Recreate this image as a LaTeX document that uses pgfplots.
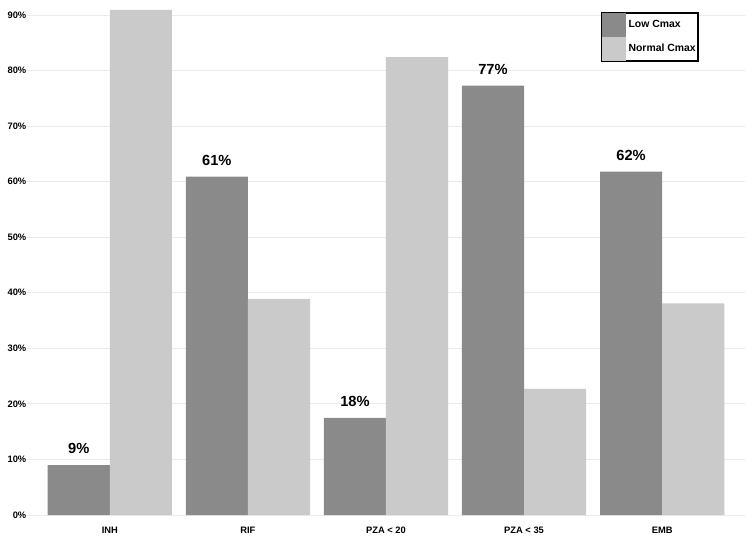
\documentclass[border=0pt]{standalone}
\usepackage{fontspec}
\setmainfont{Liberation Sans}
\usepackage{pgfplots}
\pgfplotsset{compat=1.18}
\definecolor{lowc}{HTML}{8A8A8A}
\definecolor{normc}{HTML}{CACACA}
\definecolor{gridc}{HTML}{EBEBEB}
\begin{document}
\begin{tikzpicture}
\path[use as bounding box] (0pt,0pt) rectangle (565.5pt,410.25pt);
\begin{axis}[at={(20.25pt,21pt)}, anchor=south west,
  scale only axis, width=538.5pt, height=389.25pt,
  xmin=-0.6, xmax=4.6, ymin=-0.72, ymax=92.7,
  ybar, bar width=0.45,
  axis line style={draw=none}, major tick length=0pt,
  ytick={0,10,...,90},
  yticklabel={\pgfmathprintnumber[assume math mode=true]{\tick}\%},
  xtick={0,...,4}, xticklabels={INH,RIF,PZA < 20,PZA < 35,EMB},
  ymajorgrids, grid style={gridc, line width=0.6pt},
  tick label style={font=\fontsize{7}{8}\selectfont\bfseries},
  yticklabel style={xshift=3pt},
  xticklabel style={yshift=-2.5pt},
  legend image code/.code={\fill[#1] (0pt,-9pt) rectangle (18pt,9pt);},
  legend style={at={(rel axis cs:0.7994,0.9769)}, anchor=north west,
    draw=black, line width=1.5pt, inner sep=0pt, row sep=0pt,
    font=\fontsize{7.8}{9}\selectfont\bfseries, cells={anchor=west},
    /tikz/every even column/.append style={column sep=0pt}},
]
\addplot[bar shift=-0.225, fill=lowc, draw=none,
  nodes near coords, point meta=explicit symbolic,
  nodes near coords style={font=\fontsize{11}{12}\selectfont\bfseries, yshift=5pt}]
  coordinates {(0,9.0)[9\%] (1,60.9)[61\%] (2,17.5)[18\%] (3,77.3)[77\%] (4,61.8)[62\%]};
\addlegendentry{Low Cmax}
\addplot[bar shift=0.225, fill=normc, draw=none]
  coordinates {(0,90.9) (1,38.9) (2,82.4) (3,22.7) (4,38.1)};
\addlegendentry{Normal Cmax}
\end{axis}
\end{tikzpicture}
\end{document}
